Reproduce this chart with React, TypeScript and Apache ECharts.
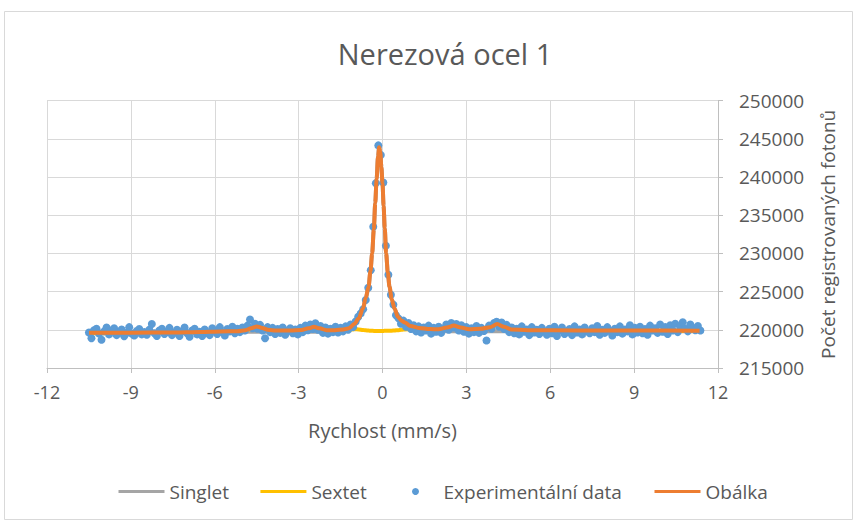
import React, { useEffect, useRef } from "react";
import * as echarts from "echarts";

const TITLE = "Nerezová ocel 1";
const X_NAME = "Rychlost (mm/s)";
const Y_NAME = "Počet registrovaných fotonů";
const SERIES_NAMES = ["Singlet", "Sextet", "Experimentální data", "Obálka"];

const X_MIN = -12;
const X_MAX = 12;
const X_INTERVAL = 3;
const Y_MIN = 215000;
const Y_MAX = 250000;
const Y_INTERVAL = 5000;

// velocities of the fitted curves
const curveX = [
  -10.5, -9.0, -7.5, -6.5, -5.8, -5.2, -4.9, -4.7, -4.5, -4.3, -4.1, -3.8, -3.3, -2.9, -2.65, -2.45,
  -2.25, -2.0, -1.7, -1.4, -1.2, -1.0, -0.85, -0.7, -0.6, -0.5, -0.43, -0.37, -0.31, -0.26, -0.21,
  -0.16, -0.12, -0.08, -0.04, 0.0, 0.04, 0.08, 0.13, 0.19, 0.25, 0.33, 0.43, 0.55, 0.68, 0.8, 1.0,
  1.3, 1.7, 2.0, 2.3, 2.55, 2.8, 3.1, 3.5, 3.85, 4.1, 4.35, 4.6, 5.2, 7.0, 9.0, 11.34,
];

const envelopeY = [
  219600, 219620, 219650, 219720, 219780, 219820, 219950, 220200, 220450, 220250, 220000, 219900,
  219900, 219980, 220200, 220400, 220200, 219950, 219950, 220050, 220200, 220800, 221500, 222800,
  224200, 225600, 227700, 230000, 233200, 236600, 239800, 242700, 243900, 243300, 241300, 239200,
  236200, 233300, 230000, 227500, 225650, 224000, 222800, 221700, 221200, 220950, 220500, 220250,
  220100, 220080, 220300, 220550, 220300, 220080, 220130, 220350, 220750, 220400, 220050, 219950,
  219920, 219900, 219880,
];

const sextetY = [
  219550, 219570, 219600, 219670, 219730, 219770, 219900, 220150, 220400, 220200, 219950, 219850,
  219850, 219920, 220130, 220330, 220120, 219880, 219880, 219950, 220030, 220080, 220040, 219980,
  219930, 219900, 219880, 219870, 219860, 219855, 219850, 219850, 219850, 219850, 219850, 219855,
  219860, 219865, 219870, 219875, 219880, 219890, 219910, 219950, 220000, 220050, 220080, 220050,
  219990, 220000, 220230, 220480, 220230, 220010, 220060, 220280, 220680, 220330, 219990, 219900,
  219870, 219850, 219830,
];

const singletY = [
  219750, 219750, 219750, 219750, 219750, 219750, 219750, 219750, 219750, 219750, 219750, 219750,
  219750, 219750, 219750, 219750, 219750, 219750, 219800, 219900, 220050, 220650, 221350, 222650,
  224000, 225600, 227700, 230000, 233200, 236600, 239800, 242700, 243900, 243300, 241300, 239200,
  236200, 233300, 230000, 227500, 225650, 224000, 222750, 221650, 221100, 220800, 220400, 220150,
  219950, 219900, 219800, 219800, 219800, 219800, 219800, 219800, 219800, 219800, 219800, 219800,
  219800, 219800, 219800,
];

// experimental points [velocity, counts]
const experimental: [number, number][] = [
  [-10.5, 219650], [-10.41, 218900], [-10.32, 219950], [-10.23, 220150], [-10.14, 219500], [-10.05, 218700],
  [-9.96, 219800], [-9.87, 220300], [-9.78, 219400], [-9.69, 219900], [-9.6, 220200], [-9.51, 219300],
  [-9.42, 219700], [-9.33, 220050], [-9.24, 219150], [-9.15, 219600], [-9.06, 220350], [-8.97, 219500],
  [-8.88, 219250], [-8.79, 219850], [-8.7, 220100], [-8.61, 219400], [-8.52, 219700], [-8.43, 219350],
  [-8.34, 220000], [-8.25, 220750], [-8.16, 219550], [-8.07, 219200], [-7.98, 219900], [-7.89, 220150],
  [-7.8, 219450], [-7.71, 219750], [-7.62, 220250], [-7.53, 219300], [-7.44, 219650], [-7.35, 220000],
  [-7.26, 219200], [-7.17, 219800], [-7.08, 220300], [-6.99, 219550], [-6.9, 219100], [-6.81, 219900],
  [-6.72, 220150], [-6.63, 219400], [-6.54, 219750], [-6.45, 219200], [-6.36, 220050], [-6.27, 219600],
  [-6.18, 219300], [-6.09, 220200], [-6.0, 219850], [-5.91, 219450], [-5.82, 220350], [-5.73, 219700],
  [-5.64, 219250], [-5.55, 220100], [-5.46, 219800], [-5.37, 220400], [-5.28, 219550], [-5.19, 220150],
  [-5.1, 219700], [-5.01, 220300], [-4.92, 219900], [-4.83, 220550], [-4.74, 221350], [-4.65, 220200],
  [-4.56, 220800], [-4.47, 220150], [-4.38, 220650], [-4.29, 219900], [-4.2, 218900], [-4.11, 220350],
  [-4.02, 219700], [-3.93, 220250], [-3.84, 219450], [-3.75, 220100], [-3.66, 219600], [-3.57, 220300],
  [-3.48, 219350], [-3.39, 219900], [-3.3, 220200], [-3.21, 219550], [-3.12, 220050], [-3.03, 219400],
  [-2.94, 220250], [-2.85, 219700], [-2.76, 220550], [-2.67, 219950], [-2.58, 220700], [-2.49, 220100],
  [-2.4, 220850], [-2.31, 220000], [-2.22, 220500], [-2.13, 219600], [-2.04, 220300], [-1.95, 219500],
  [-1.86, 220150], [-1.77, 219700], [-1.68, 220400], [-1.59, 219650], [-1.5, 220250], [-1.41, 219800],
  [-1.32, 220450], [-1.23, 220000], [-1.14, 220700], [-1.05, 220350], [-0.96, 221100], [-0.87, 221700],
  [-0.78, 222150], [-0.69, 222700], [-0.6, 223900], [-0.51, 225500], [-0.42, 227800], [-0.33, 233500],
  [-0.24, 239200], [-0.15, 244150], [-0.06, 242900], [0.03, 239300], [0.12, 231000], [0.21, 227200],
  [0.3, 224600], [0.39, 223300], [0.48, 221900], [0.57, 221500], [0.66, 220800], [0.75, 221200],
  [0.84, 220400], [0.93, 220900], [1.02, 220100], [1.11, 220600], [1.2, 219800], [1.29, 220450],
  [1.38, 219650], [1.47, 220300], [1.56, 219900], [1.65, 220550], [1.74, 219500], [1.83, 220250],
  [1.92, 219750], [2.01, 220400], [2.1, 219600], [2.19, 220150], [2.28, 220700], [2.37, 220000],
  [2.46, 220900], [2.55, 220300], [2.64, 220750], [2.73, 219900], [2.82, 220600], [2.91, 219750],
  [3.0, 220350], [3.09, 219500], [3.18, 220200], [3.27, 219700], [3.36, 220500], [3.45, 219600],
  [3.54, 220250], [3.63, 219850], [3.72, 218600], [3.81, 220550], [3.9, 220150], [3.99, 220900],
  [4.08, 221050], [4.17, 220400], [4.26, 220950], [4.35, 220100], [4.44, 220650], [4.53, 219700],
  [4.62, 220300], [4.71, 219550], [4.8, 220150], [4.89, 219400], [4.98, 220450], [5.07, 219750],
  [5.16, 220050], [5.25, 219300], [5.34, 220350], [5.43, 219650], [5.52, 220000], [5.61, 219450],
  [5.7, 220250], [5.79, 219800], [5.88, 219350], [5.97, 220150], [6.06, 219550], [6.15, 220400],
  [6.24, 219200], [6.33, 219900], [6.42, 220300], [6.51, 219450], [6.6, 219750], [6.69, 220100],
  [6.78, 219300], [6.87, 220450], [6.96, 219650], [7.05, 220050], [7.14, 219400], [7.23, 220300],
  [7.32, 219800], [7.41, 219550], [7.5, 220200], [7.59, 219700], [7.68, 220500], [7.77, 219350],
  [7.86, 220000], [7.95, 219600], [8.04, 220350], [8.13, 219850], [8.22, 219250], [8.31, 220150],
  [8.4, 219700], [8.49, 220450], [8.58, 219500], [8.67, 220050], [8.76, 219800], [8.85, 220600],
  [8.94, 219400], [9.03, 220250], [9.12, 219650], [9.21, 220400], [9.3, 219550], [9.39, 220100],
  [9.48, 219350], [9.57, 220550], [9.66, 219900], [9.75, 220200], [9.84, 219600], [9.93, 220700],
  [10.02, 219750], [10.11, 220350], [10.2, 219450], [10.29, 220600], [10.38, 219900], [10.47, 220800],
  [10.56, 219700], [10.65, 220450], [10.74, 221000], [10.83, 220150], [10.92, 219800], [11.01, 220700],
  [11.1, 220250], [11.19, 219950], [11.28, 220500], [11.37, 219900],
];

const COLORS = { singlet: "#a5a5a5", sextet: "#ffc000", exp: "#5b9bd5", envelope: "#ed7d31" };
const TEXT = "#595959";
const FONT = "Open Sans";

function pairs(xs: number[], ys: number[]) {
  return xs.map((x, i) => [x, ys[i]]);
}

export default function App() {
  const ref = useRef<HTMLDivElement>(null);
  useEffect(() => {
    document.body.style.margin = "0";
    if (!ref.current) return;
    const chart = echarts.init(ref.current, null, { renderer: "svg" });
    const hiddenSymbol = { opacity: 0 };
    const legendBase = {
      top: 482,
      padding: 0,
      itemWidth: 46,
      itemHeight: 7,
      itemGap: 30,
      lineStyle: { width: 3 },
      textStyle: { fontFamily: FONT, fontSize: 19, color: TEXT },
    };
    chart.setOption({
      animation: false,
      backgroundColor: "#ffffff",
      textStyle: { fontFamily: FONT },
      title: {
        text: TITLE,
        left: 440,
        textAlign: "center",
        top: 34,
        textStyle: { fontFamily: FONT, fontSize: 29, fontWeight: "normal", color: TEXT },
      },
      graphic: [
        {
          type: "rect",
          silent: true,
          z: -10,
          shape: { x: 4.5, y: 11.5, width: 848, height: 508 },
          style: { fill: "none", stroke: "#d9d9d9", lineWidth: 1 },
        },
      ],
      legend: [
        {
          ...legendBase,
          left: 117,
          data: [
            { name: SERIES_NAMES[0], itemStyle: hiddenSymbol },
            { name: SERIES_NAMES[1], itemStyle: hiddenSymbol },
          ],
        },
        {
          ...legendBase,
          left: 412,
          data: [{ name: SERIES_NAMES[2] }],
        },
        {
          ...legendBase,
          left: 653,
          data: [{ name: SERIES_NAMES[3], itemStyle: hiddenSymbol }],
        },
      ],
      grid: { left: 47, right: 139, top: 100.7, bottom: 157, containLabel: false },
      xAxis: {
        type: "value",
        min: X_MIN,
        max: X_MAX,
        interval: X_INTERVAL,
        name: X_NAME,
        nameLocation: "middle",
        nameGap: 52,
        nameTextStyle: { fontFamily: FONT, fontSize: 20, color: TEXT },
        axisLine: { show: true, onZero: false, lineStyle: { color: "#bfbfbf", width: 1 } },
        axisTick: { show: true, length: 5, lineStyle: { color: "#bfbfbf" } },
        axisLabel: { fontFamily: FONT, fontSize: 18, color: TEXT, margin: 15 },
        splitLine: { show: true, lineStyle: { color: "#d9d9d9", width: 1 } },
      },
      yAxis: {
        type: "value",
        position: "right",
        min: Y_MIN,
        max: Y_MAX,
        interval: Y_INTERVAL,
        name: Y_NAME,
        nameLocation: "middle",
        nameRotate: 90,
        nameGap: 100,
        nameTextStyle: { fontFamily: FONT, fontSize: 19, color: TEXT },
        axisLine: { show: true, onZero: false, lineStyle: { color: "#bfbfbf", width: 1 } },
        axisTick: { show: true, length: 5, lineStyle: { color: "#bfbfbf" } },
        axisLabel: {
          fontFamily: FONT,
          fontSize: 19,
          color: TEXT,
          margin: 21,
          formatter: (v: number) => String(v),
        },
        splitLine: { show: true, lineStyle: { color: "#d9d9d9", width: 1 } },
      },
      series: [
        {
          name: SERIES_NAMES[0],
          type: "line",
          data: pairs(curveX, singletY),
          symbol: "none",
          smooth: 0.3,
          smoothMonotone: "x",
          lineStyle: { color: COLORS.singlet, width: 4 },
          itemStyle: { color: COLORS.singlet },
          z: 2,
        },
        {
          name: SERIES_NAMES[1],
          type: "line",
          data: pairs(curveX, sextetY),
          symbol: "none",
          smooth: 0.3,
          smoothMonotone: "x",
          lineStyle: { color: COLORS.sextet, width: 4 },
          itemStyle: { color: COLORS.sextet },
          z: 3,
        },
        {
          name: SERIES_NAMES[2],
          type: "scatter",
          data: experimental,
          symbol: "circle",
          symbolSize: 8,
          itemStyle: { color: COLORS.exp, opacity: 1 },
          z: 4,
        },
        {
          name: SERIES_NAMES[3],
          type: "line",
          data: pairs(curveX, envelopeY),
          symbol: "none",
          smooth: 0.3,
          smoothMonotone: "x",
          lineStyle: { color: COLORS.envelope, width: 4 },
          itemStyle: { color: COLORS.envelope },
          z: 5,
        },
      ],
    });
    return () => chart.dispose();
  }, []);
  return <div ref={ref} style={{ width: 857, height: 525 }} />;
}
